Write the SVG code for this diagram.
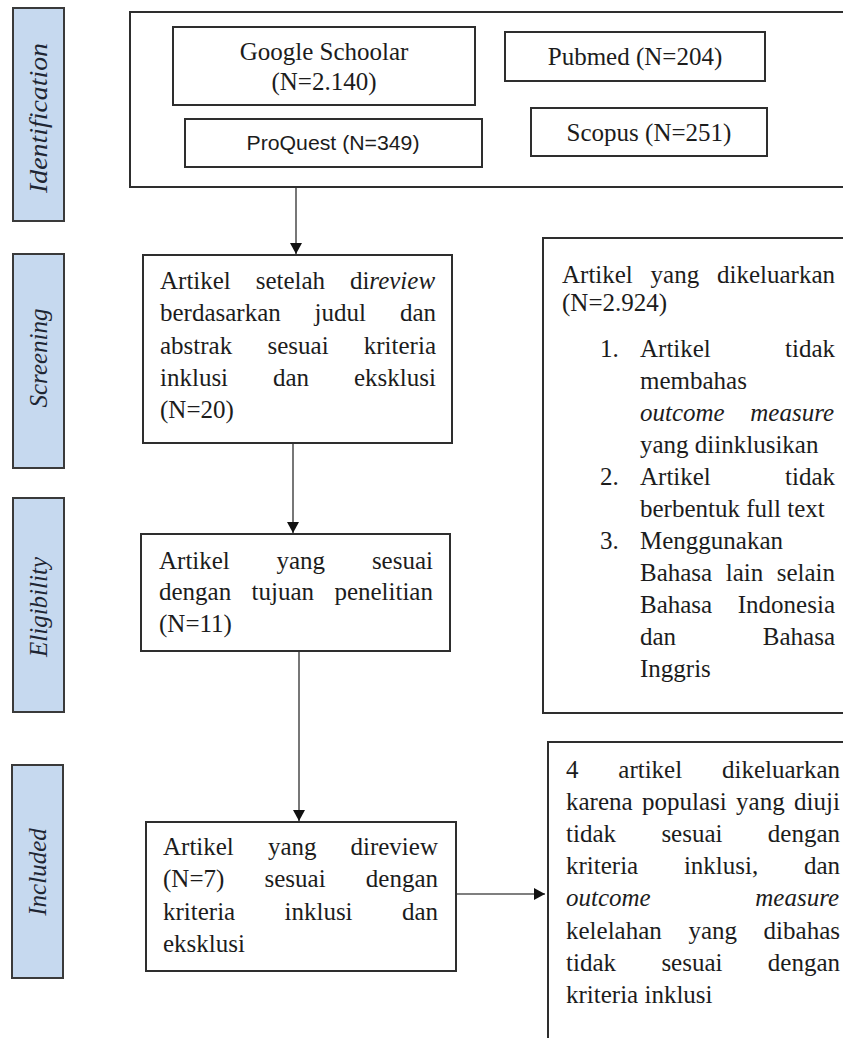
<svg xmlns="http://www.w3.org/2000/svg" width="843" height="1038" viewBox="0 0 843 1038">
<style>
.bg{fill:#ffffff}
.lab{fill:#c6d9ef;stroke:#3a3a3a;stroke-width:2}
.labt{font-family:"Liberation Serif","Times New Roman",serif;font-style:italic;font-size:25px;fill:#1e2633;text-anchor:middle}
.box{fill:#ffffff;stroke:#2e2e2e;stroke-width:2}
.t{font-family:"Liberation Serif","Times New Roman",serif;font-size:25px;fill:#1c1c1c}
.c{text-anchor:middle}
.i{font-style:italic}
.sans{font-family:"Liberation Sans",Arial,sans-serif;font-size:21px;fill:#1c1c1c;text-anchor:middle}
.conn{stroke:#555555;stroke-width:1.6;fill:none}
</style>
<defs>
<marker id="ah" markerUnits="userSpaceOnUse" markerWidth="12" markerHeight="12" refX="11" refY="6" orient="auto">
<path d="M0,0 L11,6 L0,12 z" fill="#111111"/>
</marker>
</defs>
<rect class="bg" x="0" y="0" width="843" height="1038"/>

<g id="label-identification">
<rect class="lab" x="13" y="8" width="51" height="213"/>
<text class="labt" transform="translate(47,118) rotate(-90)" textLength="150" lengthAdjust="spacingAndGlyphs">Identification</text>
</g>
<g id="label-screening">
<rect class="lab" x="13" y="254" width="51" height="214"/>
<text class="labt" transform="translate(47,358) rotate(-90)">Screening</text>
</g>
<g id="label-eligibility">
<rect class="lab" x="13" y="498" width="51" height="214"/>
<text class="labt" transform="translate(47,607) rotate(-90)">Eligibility</text>
</g>
<g id="label-included">
<rect class="lab" x="12" y="765" width="51" height="213"/>
<text class="labt" transform="translate(46,872) rotate(-90)">Included</text>
</g>

<g id="identification">
<rect class="box" x="130" y="12" width="720" height="175"/>
</g>
<g id="google-scholar">
<rect class="box" x="173" y="27" width="302" height="78"/>
<text class="t c" x="324" y="60">Google Schoolar</text>
<text class="t c" x="324" y="90">(N=2.140)</text>
</g>
<g id="pubmed">
<rect class="box" x="505" y="32" width="260" height="49"/>
<text class="t c" x="635" y="65">Pubmed (N=204)</text>
</g>
<g id="proquest">
<rect class="box" x="185" y="119" width="297" height="48"/>
<text class="sans" x="333" y="150" textLength="173" lengthAdjust="spacingAndGlyphs">ProQuest (N=349)</text>
</g>
<g id="scopus">
<rect class="box" x="531" y="108" width="236" height="48"/>
<text class="t c" x="649" y="141">Scopus (N=251)</text>
</g>

<g id="screening">
<rect class="box" x="143" y="255" width="309" height="188"/>
<text class="t" y="289"><tspan x="160">Artikel</tspan><tspan x="255.7">setelah</tspan><tspan x="349.9">di</tspan><tspan class="i">review</tspan></text>
<text class="t" y="321"><tspan x="160">berdasarkan</tspan><tspan x="314.6">judul</tspan><tspan x="399.9">dan</tspan></text>
<text class="t" y="354"><tspan x="160">abstrak</tspan><tspan x="267.5">sesuai</tspan><tspan x="363.8">kriteria</tspan></text>
<text class="t" y="386"><tspan x="160">inklusi</tspan><tspan x="273">dan</tspan><tspan x="354">eksklusi</tspan></text>
<text class="t" x="160" y="418">(N=20)</text>
</g>

<g id="eligibility">
<rect class="box" x="141" y="534" width="309" height="117"/>
<text class="t" y="569"><tspan x="159">Artikel</tspan><tspan x="276.5">yang</tspan><tspan x="371.9">sesuai</tspan></text>
<text class="t" y="600"><tspan x="159">dengan</tspan><tspan x="251.5">tujuan</tspan><tspan x="334.4">penelitian</tspan></text>
<text class="t" x="159" y="632">(N=11)</text>
</g>

<g id="included">
<rect class="box" x="146" y="822" width="310" height="149"/>
<text class="t" y="855"><tspan x="163">Artikel</tspan><tspan x="267.9">yang</tspan><tspan x="350.5">direview</tspan></text>
<text class="t" y="887"><tspan x="163">(N=7)</tspan><tspan x="264.5">sesuai</tspan><tspan x="365.8">dengan</tspan></text>
<text class="t" y="920"><tspan x="163">kriteria</tspan><tspan x="284.5">inklusi</tspan><tspan x="401.9">dan</tspan></text>
<text class="t" x="163" y="952">eksklusi</text>
</g>

<g id="excluded-screening">
<rect class="box" x="543" y="238" width="310" height="475"/>
<text class="t" y="283"><tspan x="562">Artikel</tspan><tspan x="650.6">yang</tspan><tspan x="717">dikeluarkan</tspan></text>
<text class="t" x="562" y="311">(N=2.924)</text>
<text class="t" x="600" y="357">1.</text>
<text class="t" y="357"><tspan x="640">Artikel</tspan><tspan x="785">tidak</tspan></text>
<text class="t" x="640" y="389">membahas</text>
<text class="t i" y="421"><tspan x="640">outcome</tspan><tspan x="750.3">measure</tspan></text>
<text class="t" x="640" y="453">yang diinklusikan</text>
<text class="t" x="600" y="485">2.</text>
<text class="t" y="485"><tspan x="640">Artikel</tspan><tspan x="785">tidak</tspan></text>
<text class="t" x="640" y="517">berbentuk full text</text>
<text class="t" x="600" y="549">3.</text>
<text class="t" x="640" y="549">Menggunakan</text>
<text class="t" y="581"><tspan x="640">Bahasa</tspan><tspan x="725.7">lain</tspan><tspan x="776.7">selain</tspan></text>
<text class="t" y="613"><tspan x="640">Bahasa</tspan><tspan x="737.8">Indonesia</tspan></text>
<text class="t" y="645"><tspan x="640">dan</tspan><tspan x="762.8">Bahasa</tspan></text>
<text class="t" x="640" y="677">Inggris</text>
</g>

<g id="excluded-included">
<rect class="box" x="548" y="742" width="305" height="310"/>
<text class="t" y="778"><tspan x="566">4</tspan><tspan x="618.3">artikel</tspan><tspan x="722">dikeluarkan</tspan></text>
<text class="t" y="810"><tspan x="566">karena</tspan><tspan x="642">populasi</tspan><tspan x="736.1">yang</tspan><tspan x="794.1">diuji</tspan></text>
<text class="t" y="842"><tspan x="566">tidak</tspan><tspan x="661.4">sesuai</tspan><tspan x="767.8">dengan</tspan></text>
<text class="t" y="874"><tspan x="566">kriteria</tspan><tspan x="683.9">inklusi,</tspan><tspan x="803.9">dan</tspan></text>
<text class="t i" y="906"><tspan x="566">outcome</tspan><tspan x="755.3">measure</tspan></text>
<text class="t" y="939"><tspan x="566">kelelahan</tspan><tspan x="688.4">yang</tspan><tspan x="763.6">dibahas</tspan></text>
<text class="t" y="971"><tspan x="566">tidak</tspan><tspan x="661.4">sesuai</tspan><tspan x="767.8">dengan</tspan></text>
<text class="t" x="566" y="1003">kriteria inklusi</text>
</g>

<g id="connectors">
<line class="conn" x1="296" y1="188" x2="296" y2="254" marker-end="url(#ah)"/>
<line class="conn" x1="293" y1="444" x2="293" y2="533" marker-end="url(#ah)"/>
<line class="conn" x1="299" y1="652" x2="299" y2="821" marker-end="url(#ah)"/>
<line class="conn" x1="457" y1="894" x2="545" y2="894" marker-end="url(#ah)"/>
</g>
</svg>
